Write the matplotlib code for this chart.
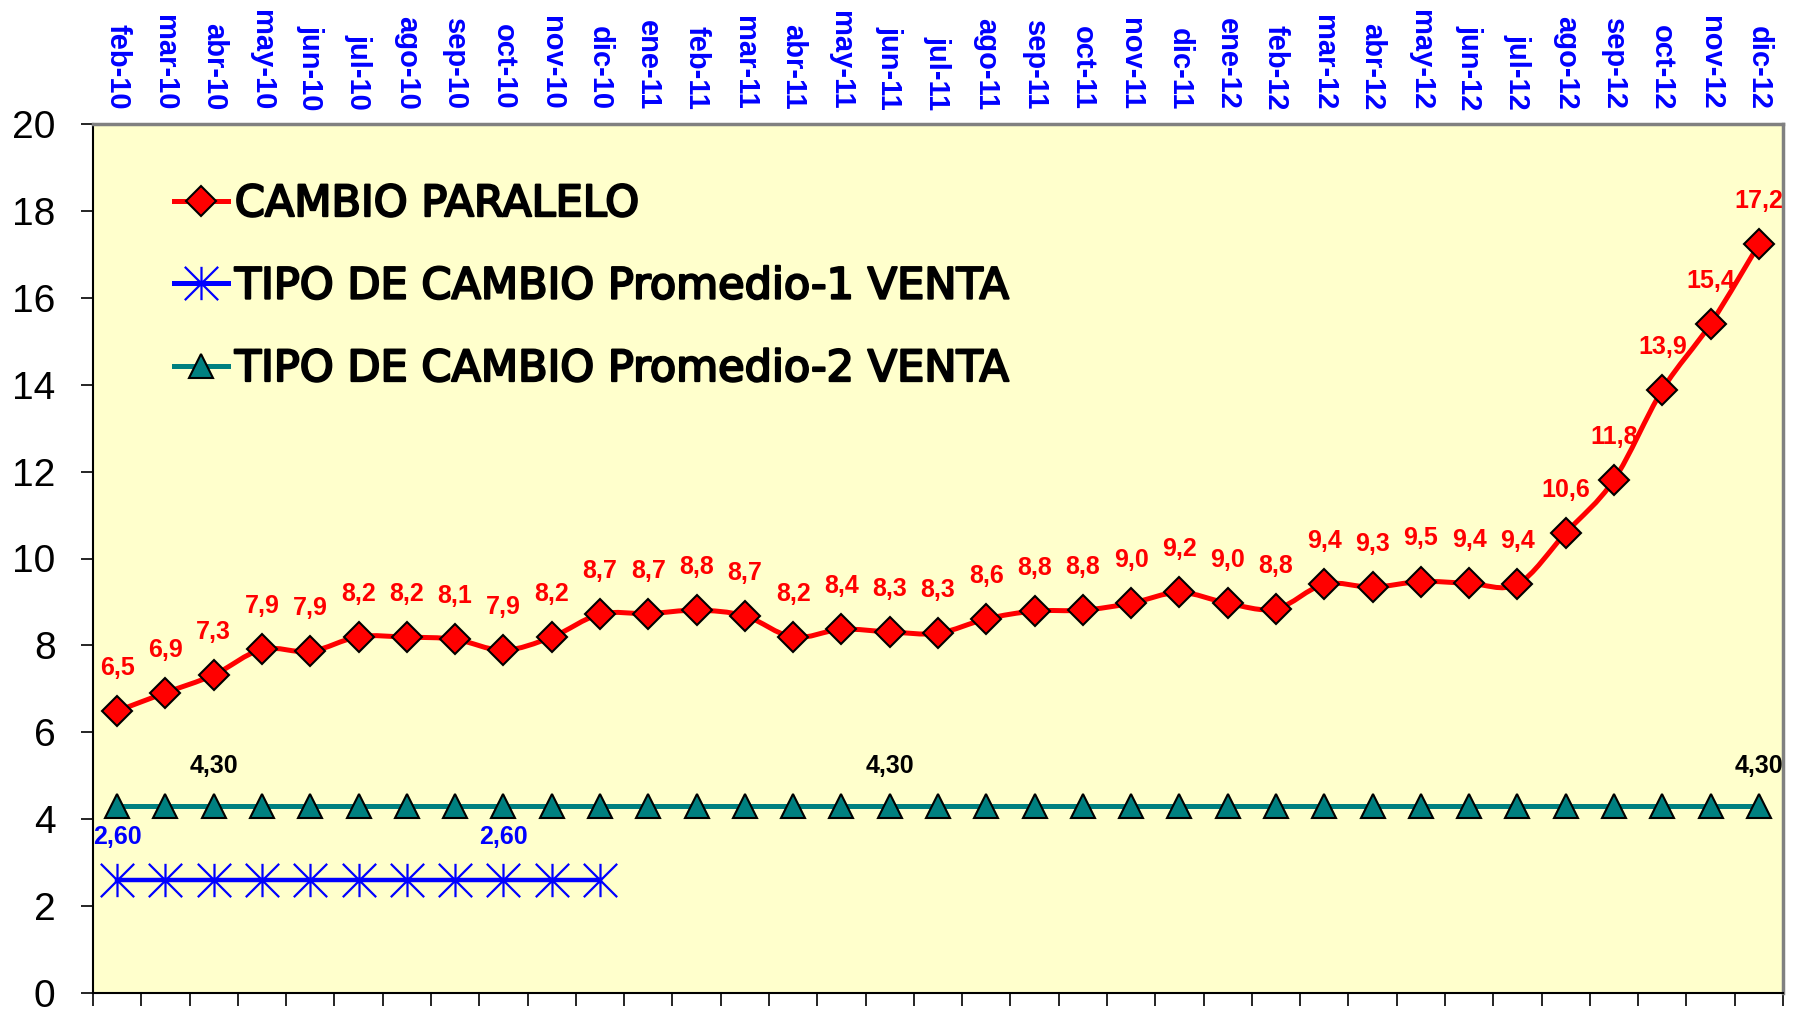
import numpy as np
import matplotlib
matplotlib.use("Agg")
import matplotlib.pyplot as plt
from matplotlib.path import Path
from matplotlib.patches import PathPatch
from matplotlib.lines import Line2D
import matplotlib.patheffects as pe

months = ["feb-10", "mar-10", "abr-10", "may-10", "jun-10", "jul-10", "ago-10", "sep-10",
          "oct-10", "nov-10", "dic-10", "ene-11", "feb-11", "mar-11", "abr-11", "may-11",
          "jun-11", "jul-11", "ago-11", "sep-11", "oct-11", "nov-11", "dic-11", "ene-12",
          "feb-12", "mar-12", "abr-12", "may-12", "jun-12", "jul-12", "ago-12", "sep-12",
          "oct-12", "nov-12", "dic-12"]

paralelo = [6.49, 6.91, 7.32, 7.91, 7.86, 8.20, 8.19, 8.14, 7.89, 8.19,
            8.72, 8.73, 8.81, 8.68, 8.19, 8.37, 8.31, 8.28, 8.61, 8.79,
            8.81, 8.97, 9.22, 8.97, 8.84, 9.41, 9.34, 9.47, 9.43, 9.41,
            10.59, 11.81, 13.88, 15.40, 17.23]
promedio1 = [2.60] * 11
promedio2 = [4.30] * 35
labels_p1_idx = [0, 8]
labels_p2_idx = [2, 16, 34]

legend_labels = ["CAMBIO PARALELO", "TIPO DE CAMBIO Promedio-1 VENTA",
                 "TIPO DE CAMBIO Promedio-2 VENTA"]

RED = "#FF0000"
BLUE = "#0000FF"
TEAL = "#008080"
BG = "#FFFFCC"

fig = plt.figure(figsize=(17.96, 10.09), dpi=100)
W, H = 1796, 1009
L, R, T, B = 93, 1783, 124, 993
ax = fig.add_axes([L / W, 1 - B / H, (R - L) / W, (B - T) / H])
ax.set_facecolor(BG)
n = len(months)
x = np.arange(n)
ax.set_xlim(-0.5, n - 0.5)
ax.set_ylim(0, 20)

# asterisk marker (vertical bar + X)
ast = Path([(0, -1), (0, 1), (-1, -1), (1, 1), (-1, 1), (1, -1)],
           [Path.MOVETO, Path.LINETO, Path.MOVETO, Path.LINETO, Path.MOVETO, Path.LINETO])

# teal series
ax.plot(x, promedio2, color=TEAL, lw=3.6, marker="^", ms=17, mfc=TEAL, mec="black",
        mew=1.5, zorder=3)
# blue series
x1 = np.arange(len(promedio1))
ax.plot(x1, promedio1, color=BLUE, lw=3.2, zorder=3)
ax.plot(x1, promedio1, linestyle="none", marker=ast, ms=24, mec=BLUE, mew=1.6, zorder=3)

# red smoothed series (Catmull-Rom as cubic Bezier)
P = np.column_stack([x, np.array(paralelo)])
verts = [tuple(P[0])]
codes = [Path.MOVETO]
for i in range(n - 1):
    p0 = P[i - 1] if i > 0 else P[i]
    p1 = P[i]
    p2 = P[i + 1]
    p3 = P[i + 2] if i + 2 < n else P[i + 1]
    c1 = p1 + (p2 - p0) / 6.0
    c2 = p2 - (p3 - p1) / 6.0
    verts += [tuple(c1), tuple(c2), tuple(p2)]
    codes += [Path.CURVE4] * 3
ax.add_patch(PathPatch(Path(verts, codes), facecolor="none", edgecolor=RED, lw=3.6,
                       capstyle="round", joinstyle="round", zorder=4))
ax.plot(x, paralelo, linestyle="none", marker="D", ms=15.5, mfc=RED, mec="black",
        mew=1.5, zorder=5)

lab_font = dict(family="Liberation Sans", fontsize=18, fontweight="bold")
for i, v in enumerate(paralelo):
    ax.annotate(f"{v:.1f}".replace(".", ","), (i, v), xytext=(0, 31),
                textcoords="offset points", ha="center", va="center", color=RED,
                zorder=6, **lab_font)
for i in labels_p2_idx:
    ax.annotate(f"{promedio2[i]:.2f}".replace(".", ","), (i, promedio2[i]), xytext=(0, 29),
                textcoords="offset points", ha="center", va="center", color="black",
                zorder=6, **lab_font)
for i in labels_p1_idx:
    ax.annotate(f"{promedio1[i]:.2f}".replace(".", ","), (i, promedio1[i]), xytext=(0, 31),
                textcoords="offset points", ha="center", va="center", color=BLUE,
                zorder=6, **lab_font)

# axes styling
ax.set_yticks(np.arange(0, 21, 2))
ax.set_yticklabels([str(v) for v in range(0, 21, 2)], family="Liberation Sans", fontsize=28)
ax.tick_params(axis="y", direction="out", length=9, width=1.2, pad=18, colors="black")
ax.set_xticks(np.arange(-0.5, n, 1.0))
ax.set_xticklabels([])
ax.tick_params(axis="x", direction="out", length=9, width=1.2)
for s in ["left", "bottom"]:
    ax.spines[s].set_color("black")
    ax.spines[s].set_linewidth(1.5)
for s in ["top", "right"]:
    ax.spines[s].set_color("#808080")
    ax.spines[s].set_linewidth(2.5)

sec = ax.secondary_xaxis("top")
sec.set_xticks(x)
sec.set_xticklabels(months, rotation=270, ha="center", va="bottom", color=BLUE,
                    family="Liberation Sans", fontsize=21, fontweight="bold")
sec.tick_params(length=0, pad=10)
sec.spines["top"].set_visible(False)

handles = [
    Line2D([0], [0], color=RED, lw=3.6, marker="D", ms=15.5, mfc=RED, mec="black", mew=1.5),
    Line2D([0], [0], color=BLUE, lw=3.6, marker=ast, ms=24, mec=BLUE, mew=1.6),
    Line2D([0], [0], color=TEAL, lw=3.6, marker="^", ms=17, mfc=TEAL, mec="black", mew=1.5),
]
leg = ax.legend(handles, legend_labels, loc="upper left", bbox_to_anchor=(0.048, 0.932),
                frameon=False, prop=dict(family="DejaVu Sans", size=31),
                handlelength=1.26, handletextpad=0.15, labelspacing=0.94, borderpad=0,
                borderaxespad=0)
for t in leg.get_texts():
    t.set_path_effects([pe.withStroke(linewidth=1.6, foreground="black")])

fig.savefig("out.png", dpi=100, facecolor="white")
